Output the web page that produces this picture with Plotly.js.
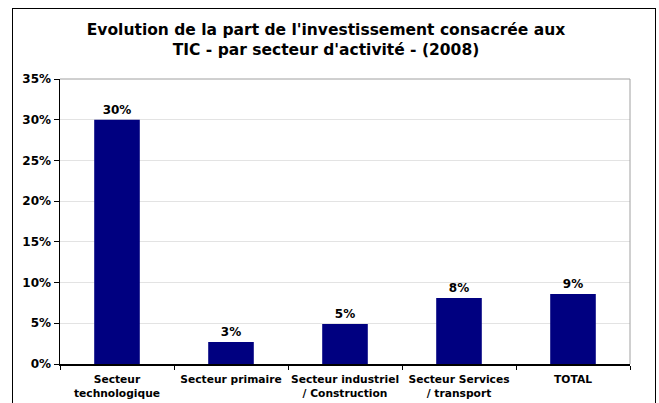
<!DOCTYPE html>
<html>
<head>
<meta charset="utf-8">
<script src="https://cdn.plot.ly/plotly-3.0.1.min.js"></script>
<style>
html,body{margin:0;padding:0;background:#fff;}
#wrap{position:relative;width:659px;height:403px;overflow:hidden;}
#chart{width:659px;height:403px;}
#frame{position:absolute;left:12px;top:8px;width:642px;height:420px;border:1.5px solid #000;pointer-events:none;}
</style>
</head>
<body>
<div id="wrap"><div id="chart"></div><div id="frame"></div></div>
<script>
const categories = ["Secteur<br>technologique", "Secteur primaire", "Secteur industriel<br>/ Construction", "Secteur Services<br>/ transport", "TOTAL"];
const values = [0.30, 0.027, 0.049, 0.081, 0.086];
const titleText = "Evolution de la part de l'investissement consacrée aux<br>TIC - par secteur d'activité - (2008)";

const FONT = "DejaVu Sans, Verdana, sans-serif";
const W = 659, H = 403, L = 60, R = 29, T = 78.5, B = 39;

const trace = {
  type: 'bar',
  x: categories,
  y: values,
  marker: {color: '#000080'},
  text: values.map(v => Math.round(v * 100) + '%'),
  textposition: 'outside',
  textfont: {family: FONT, size: 12, color: '#000', weight: 'bold'},
  cliponaxis: false,
  hoverinfo: 'none'
};

const layout = {
  width: W, height: H,
  margin: {l: L, r: R, t: T, b: B, pad: 0},
  paper_bgcolor: '#fff',
  plot_bgcolor: '#fff',
  showlegend: false,
  bargap: 0.6,
  font: {family: FONT, color: '#000'},
  title: {
    text: titleText,
    font: {family: FONT, size: 15.5, color: '#000', weight: 'bold'},
    x: 326 / W, xref: 'container', xanchor: 'center',
    y: 1 - 35 / H, yref: 'container', yanchor: 'top'
  },
  xaxis: {
    type: 'category',
    showline: true, linecolor: '#000', linewidth: 1.5,
    ticks: 'outside', ticklen: 4, tickcolor: '#000', tickwidth: 1,
    tickson: 'boundaries',
    tickangle: 0,
    ticklabelstandoff: 5,
    tickfont: {family: FONT, size: 10.7, color: '#000', weight: 'bold'},
    showgrid: false, zeroline: false, fixedrange: true
  },
  yaxis: {
    range: [0, 0.35], dtick: 0.05, tickformat: '.0%',
    showline: true, linecolor: '#000', linewidth: 1.5,
    ticks: 'outside', ticklen: 5, tickcolor: '#000',
    tickfont: {family: FONT, size: 12, color: '#000', weight: 'bold'},
    showgrid: true, gridcolor: '#e3e3e3', gridwidth: 1,
    zeroline: false, fixedrange: true
  },
  shapes: [
    {type: 'line', xref: 'paper', yref: 'paper', x0: 0, x1: 1, y0: 1, y1: 1, line: {color: '#a0a0a0', width: 1}},
    {type: 'line', xref: 'paper', yref: 'paper', x0: 1, x1: 1, y0: 0, y1: 1, line: {color: '#a0a0a0', width: 1}}
  ]
};

Plotly.newPlot('chart', [trace], layout, {staticPlot: true, displayModeBar: false});
</script>
</body>
</html>
